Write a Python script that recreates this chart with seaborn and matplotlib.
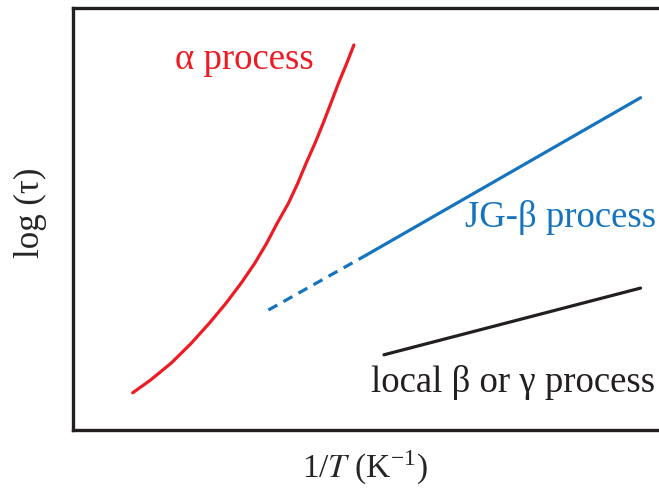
import matplotlib
matplotlib.use("Agg")
import matplotlib.pyplot as plt
import seaborn as sns
import pandas as pd

# Relaxation map (arbitrary units): inverse temperature vs log relaxation time
alpha_x = [1.01, 1.31, 1.66, 2.00, 2.31, 2.59, 2.85, 3.08, 3.28, 3.46,
           3.65, 3.81, 3.95, 4.10, 4.24, 4.37, 4.50, 4.64, 4.76]
alpha_y = [0.88, 1.18, 1.58, 2.05, 2.53, 3.00, 3.48, 3.95, 4.42, 4.90,
           5.37, 5.85, 6.32, 6.79, 7.27, 7.74, 8.22, 8.69, 9.12]

jg_dashed_x = [3.31, 4.98]
jg_dashed_y = [2.84, 4.15]
jg_x = [4.98, 9.62]
jg_y = [4.15, 7.87]

local_x = [5.27, 9.62]
local_y = [1.78, 3.36]

labels = ["\u03b1 process", "JG-\u03b2 process", "local \u03b2 or \u03b3 process"]
colors = ["#ED1C24", "#1574BD", "#231F20"]

sns.set_theme(style="white")
plt.rcParams["font.family"] = ["Liberation Serif", "DejaVu Serif"]
plt.rcParams["mathtext.fontset"] = "stix"

fig = plt.figure(figsize=(6.59, 4.88), dpi=100)
ax = fig.add_axes([0.111, 0.119, 0.895, 0.865])

sns.lineplot(data=pd.DataFrame({"x": alpha_x, "y": alpha_y}), x="x", y="y",
             ax=ax, color=colors[0], lw=2.3, sort=False)
sns.lineplot(data=pd.DataFrame({"x": jg_dashed_x, "y": jg_dashed_y}), x="x", y="y",
             ax=ax, color=colors[1], lw=2.3, ls=(0, (3.2, 2.2)))
sns.lineplot(data=pd.DataFrame({"x": jg_x, "y": jg_y}), x="x", y="y",
             ax=ax, color=colors[1], lw=2.3)
sns.lineplot(data=pd.DataFrame({"x": local_x, "y": local_y}), x="x", y="y",
             ax=ax, color=colors[2], lw=2.3)

ax.set_xlim(0, 10.0)
ax.set_ylim(0, 10.0)
ax.set_xticks([])
ax.set_yticks([])

for side in ["left", "top", "bottom"]:
    ax.spines[side].set_linewidth(2.4)
    ax.spines[side].set_color("#231F20")
ax.spines["right"].set_visible(False)

fs = 26.5
ax.text(1.72, 8.55, labels[0], color=colors[0], fontsize=fs, ha="left", va="baseline")
ax.text(6.65, 4.81, labels[1], color=colors[1], fontsize=fs, ha="left", va="baseline")
ax.text(5.05, 0.90, labels[2], color=colors[2], fontsize=fs, ha="left", va="baseline")

ax.set_xlabel(r"1/$\mathit{T}$ (K$^{\mathregular{-1}}$)", fontsize=24, va="center")
ax.set_ylabel("log (\u03c4)", fontsize=25, va="center")
ax.xaxis.set_label_coords(0.495, -0.088)
ax.yaxis.set_label_coords(-0.073, 0.514)

fig.savefig("out.png", dpi=100)
